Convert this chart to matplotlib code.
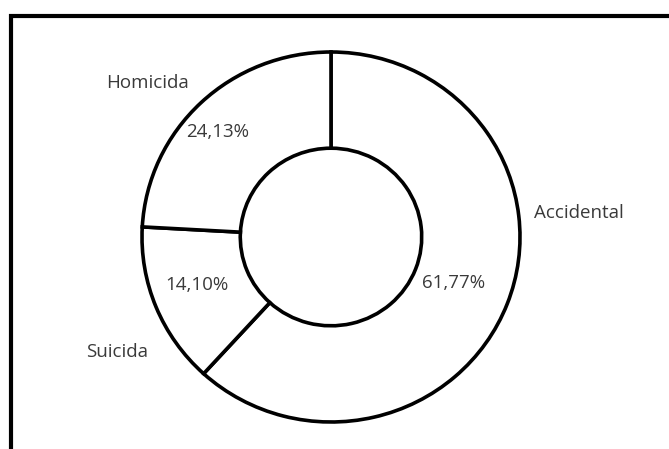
import matplotlib
matplotlib.use("Agg")
import matplotlib.pyplot as plt
from matplotlib.patches import Rectangle

# Manner of death shares (%)
categories = ["Accidental", "Suicida", "Homicida"]
shares = [61.77, 14.10, 24.13]

# Label anchor points in axes data units (radius 1 = outer ring)
name_pos = [(1.31, 0.13), (-1.13, -0.62), (-0.97, 0.83)]
pct_pos = [(0.65, -0.25), (-0.71, -0.26), (-0.60, 0.57)]

W, H, DPI = 669, 449, 100
fig = plt.figure(figsize=(W / DPI, H / DPI), dpi=DPI)
fig.patch.set_facecolor("white")

# Box frame (only top and left edges fall inside the canvas)
fig.patches.append(Rectangle((11 / W, -0.2), 1.2, (H - 16) / H + 0.2,
                             transform=fig.transFigure, fill=False,
                             edgecolor="black", linewidth=3.0))

ax = fig.add_axes([0, 0, 1, 1])
ax.pie(shares, startangle=90, counterclock=False, radius=1.0,
       colors=["white"] * len(shares),
       wedgeprops=dict(width=0.52, edgecolor="black", linewidth=2.6))
ax.set_aspect("auto")
cx, cy, rx, ry = 331, 237, 189, 185
ax.set_xlim(-cx / rx, (W - cx) / rx)
ax.set_ylim(-(H - cy) / ry, cy / ry)
ax.axis("off")

txt = dict(fontsize=13.5, color="#3a3a3a", family="Open Sans",
           ha="center", va="center")
for name, (x, y) in zip(categories, name_pos):
    ax.text(x, y, name, **txt)
for val, (x, y) in zip(shares, pct_pos):
    ax.text(x, y, f"{val:.2f}".replace(".", ",") + "%", **txt)

fig.savefig("out.png", dpi=DPI, facecolor="white")
